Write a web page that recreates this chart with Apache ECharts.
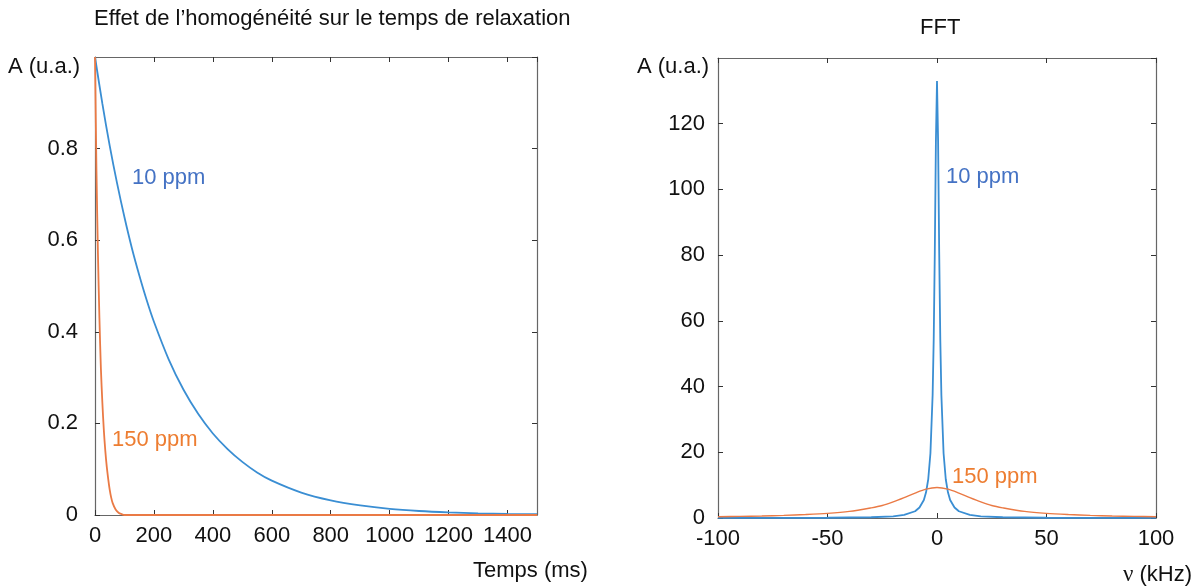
<!DOCTYPE html>
<html>
<head>
<meta charset="utf-8">
<script src="https://cdn.jsdelivr.net/npm/echarts@6/dist/echarts.min.js"></script>
<style>
html,body{margin:0;background:#fff}
#main{width:1200px;height:588px}
</style>
</head>
<body>
<div id="main"></div>
<script>
// signal de relaxation (gauche)
var tBlue = [0,25,50,75,100,125,150,175,200,250,300,350,400,450,500,550,600,700,800,900,1000,1100,1200,1300,1400,1500];
var aBlue = [1,0.898,0.806,0.724,0.65,0.583,0.524,0.47,0.422,0.34,0.274,0.221,0.178,0.144,0.116,0.093,0.075,0.049,0.032,0.021,0.0134,0.0087,0.0057,0.0037,0.0024,0.0016];
var tOrange = [0,5,10,15,20,25,30,35,40,45,50,55,60,70,80,90,100,150,1500];
var aOrange = [1,0.75,0.57,0.43,0.32,0.245,0.185,0.14,0.105,0.078,0.055,0.038,0.026,0.012,0.005,0.002,0,0,0];

// FFT (droite)
var fBlue = [-100,-75,-50,-30,-20,-15,-10,-8,-6,-5,-4,-3,-2,-1.5,-1,-0.5,0,0.5,1,1.5,2,3,4,5,6,8,10,15,20,30,50,75,100];
var sBlue = [0.02,0.04,0.08,0.23,0.52,0.92,2.05,3.2,5.5,7.8,11.8,19.7,37.4,54.5,81,114.7,133,114.7,81,54.5,37.4,19.7,11.8,7.8,5.5,3.2,2.05,0.92,0.52,0.23,0.08,0.04,0.02];
var fOrange = [-100,-90,-80,-70,-60,-50,-40,-30,-25,-20,-15,-10,-5,0,5,10,15,20,25,30,40,50,60,70,80,90,100];
var sOrange = [0.4,0.5,0.6,0.8,1.05,1.4,2.0,3.1,3.8,4.9,6.2,7.6,8.8,9.3,8.8,7.6,6.2,4.9,3.8,3.1,2.0,1.4,1.05,0.8,0.6,0.5,0.4];

var xStepLeft = 200, yStepLeft = 0.2, xStepRight = 50, yStepRight = 20;

function pairs(xs, ys) {
    return xs.map(function (x, i) { return [x, ys[i]]; });
}

var blue = '#3a8ed3', orange = '#ea7a45';
var axisCol = '#666';
var font = 'Liberation Sans, Arial, sans-serif';

function xAx(idx, min, max, step, pos) {
    return {
        type: 'value', gridIndex: idx, min: min, max: max, interval: step, position: pos,
        axisLine: {show: true, onZero: false, lineStyle: {color: axisCol, width: 1.2}},
        axisTick: {show: true, inside: true, length: 5, lineStyle: {color: '#333'}},
        axisLabel: {show: pos === 'bottom', color: '#111', fontSize: 22, fontFamily: font, margin: 10,
            showMaxLabel: idx === 1, formatter: function (v) { return String(v); }},
        splitLine: {show: false}
    };
}
function yAx(idx, min, max, step, pos, gap) {
    return {
        type: 'value', gridIndex: idx, min: min, max: max, interval: step, position: pos,
        axisLine: {show: true, onZero: false, lineStyle: {color: axisCol, width: 1.2}},
        axisTick: {show: true, inside: true, length: 5, lineStyle: {color: '#333'}},
        axisLabel: {show: pos === 'left', color: '#111', fontSize: 22, fontFamily: font, margin: gap,
            showMaxLabel: false, formatter: function (v) { return String(v); }},
        splitLine: {show: false}
    };
}
function txt(x, y, s, col) {
    return {type: 'text', x: x, y: y, style: {text: s, fill: col || '#111', font: '22px ' + font, verticalAlign: 'middle'}};
}

var myChart = echarts.init(document.getElementById('main'));
var option = {
    backgroundColor: '#fff',
    animation: false,
    grid: [
        {left: 95, top: 57, width: 442, height: 458},
        {left: 718, top: 58, width: 438, height: 460}
    ],
    xAxis: [
        xAx(0, 0, 1500, xStepLeft, 'bottom'),
        xAx(1, -100, 100, xStepRight, 'bottom'),
        xAx(0, 0, 1500, xStepLeft, 'top'),
        xAx(1, -100, 100, xStepRight, 'top')
    ],
    yAxis: [
        yAx(0, 0, 1, yStepLeft, 'left', 17),
        yAx(1, 0, 140, yStepRight, 'left', 13),
        yAx(0, 0, 1, yStepLeft, 'right', 0),
        yAx(1, 0, 140, yStepRight, 'right', 0)
    ],
    series: [
        {name: '10 ppm', type: 'line', xAxisIndex: 0, yAxisIndex: 0, data: pairs(tBlue, aBlue),
            smooth: 0.3, showSymbol: false, lineStyle: {color: blue, width: 1.8}},
        {name: '150 ppm', type: 'line', xAxisIndex: 0, yAxisIndex: 0, data: pairs(tOrange, aOrange),
            smooth: 0.3, showSymbol: false, lineStyle: {color: orange, width: 1.8}},
        {name: '10 ppm', type: 'line', xAxisIndex: 1, yAxisIndex: 1, data: pairs(fBlue, sBlue),
            smooth: false, showSymbol: false, lineStyle: {color: blue, width: 1.8}},
        {name: '150 ppm', type: 'line', xAxisIndex: 1, yAxisIndex: 1, data: pairs(fOrange, sOrange),
            smooth: 0.3, showSymbol: false, lineStyle: {color: orange, width: 1.4}}
    ],
    graphic: [
        txt(94, 19, 'Effet de l\u2019homogénéité sur le temps de relaxation'),
        txt(920, 28, 'FFT'),
        txt(8, 67, 'A (u.a.)'),
        txt(637, 67, 'A (u.a.)'),
        txt(473, 571, 'Temps (ms)'),
        {type: 'text', x: 1123, y: 575, style: {
            text: '{g|\u03bd} (kHz)', fill: '#111', font: '22px ' + font, verticalAlign: 'middle',
            rich: {g: {fontFamily: 'Liberation Serif, DejaVu Serif, serif', fontSize: 23, fill: '#111'}}
        }},
        txt(132, 178, '10 ppm', '#4472c4'),
        txt(112, 440, '150 ppm', '#ed7d31'),
        txt(946, 177, '10 ppm', '#4472c4'),
        txt(952, 477, '150 ppm', '#ed7d31')
    ]
};
myChart.setOption(option);
</script>
</body>
</html>
